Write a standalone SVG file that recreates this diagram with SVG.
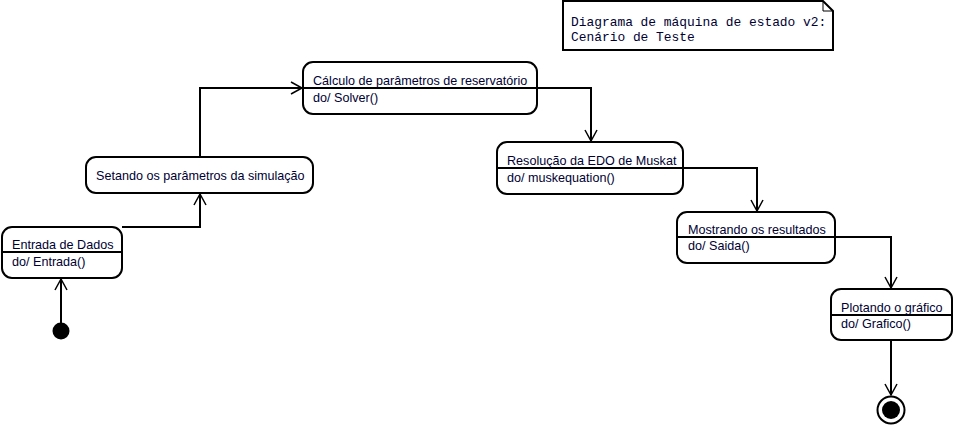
<svg xmlns="http://www.w3.org/2000/svg" width="955" height="430" viewBox="0 0 955 430">
<style>
.box{fill:#fff;stroke:#000;stroke-width:2}
.sep{stroke:#000;stroke-width:2}
.t{font-family:"Liberation Sans",Arial,sans-serif;font-size:12.6px;fill:#000033}
.m{font-family:"Liberation Mono","Courier New",monospace;font-size:12.9px;fill:#000033}
.c{fill:none;stroke:#000;stroke-width:2}
</style>
<defs>
<marker id="arr" markerUnits="userSpaceOnUse" markerWidth="14" markerHeight="14" viewBox="0 0 14 14" refX="12" refY="7" orient="auto">
<path d="M1,1 L12,7 L1,13" fill="none" stroke="#000" stroke-width="1.5"/>
</marker>
</defs>
<rect width="955" height="430" fill="#fff"/>
<g id="note">
<path d="M563,1 H823 L833,11 V50 H563 Z" fill="#fff" stroke="#000" stroke-width="2"/>
<path d="M823,1 V11 H833" fill="none" stroke="#000" stroke-width="1"/>
<text class="m" x="571" y="26">Diagrama de máquina de estado v2:</text>
<text class="m" x="571" y="41">Cenário de Teste</text>
</g>
<g id="connectors">
<path class="c" d="M61,331 V279" marker-end="url(#arr)"/>
<path class="c" d="M122,227 H200 V194" marker-end="url(#arr)"/>
<path class="c" d="M200,157 V88 H302" marker-end="url(#arr)"/>
<path class="c" d="M537,88 H591 V141" marker-end="url(#arr)"/>
<path class="c" d="M683,168 H757 V211" marker-end="url(#arr)"/>
<path class="c" d="M835,237 H891 V288" marker-end="url(#arr)"/>
<path class="c" d="M891,340 V395" marker-end="url(#arr)"/>
</g>
<g id="initial">
<circle cx="61" cy="331" r="8.5" fill="#000"/>
</g>
<g id="entrada">
<rect class="box" x="2" y="227" width="120" height="51" rx="10"/>
<line class="sep" x1="2" y1="252" x2="122" y2="252"/>
<text class="t" x="12" y="249">Entrada de Dados</text>
<text class="t" x="12" y="266">do/ Entrada()</text>
</g>
<g id="setando">
<rect class="box" x="86" y="157" width="227" height="36" rx="10"/>
<text class="t" x="96" y="180">Setando os parâmetros da simulação</text>
</g>
<g id="calculo">
<rect class="box" x="303" y="62" width="234" height="52" rx="10"/>
<line class="sep" x1="303" y1="88" x2="537" y2="88"/>
<text class="t" x="313" y="85">Cálculo de parâmetros de reservatório</text>
<text class="t" x="313" y="102">do/ Solver()</text>
</g>
<g id="resolucao">
<rect class="box" x="497" y="142" width="186" height="52" rx="10"/>
<line class="sep" x1="497" y1="168" x2="683" y2="168"/>
<text class="t" x="507" y="165">Resolução da EDO de Muskat</text>
<text class="t" x="507" y="182">do/ muskequation()</text>
</g>
<g id="mostrando">
<rect class="box" x="677" y="212" width="158" height="51" rx="10"/>
<line class="sep" x1="677" y1="237" x2="835" y2="237"/>
<text class="t" x="688" y="234">Mostrando os resultados</text>
<text class="t" x="688" y="250">do/ Saida()</text>
</g>
<g id="plotando">
<rect class="box" x="831" y="289" width="121" height="51" rx="10"/>
<line class="sep" x1="831" y1="315" x2="952" y2="315"/>
<text class="t" x="841" y="312">Plotando o gráfico</text>
<text class="t" x="841" y="328">do/ Grafico()</text>
</g>
<g id="final">
<circle cx="891" cy="410" r="13.5" fill="#fff" stroke="#000" stroke-width="2"/>
<circle cx="891" cy="410" r="9" fill="#000"/>
</g>
</svg>
